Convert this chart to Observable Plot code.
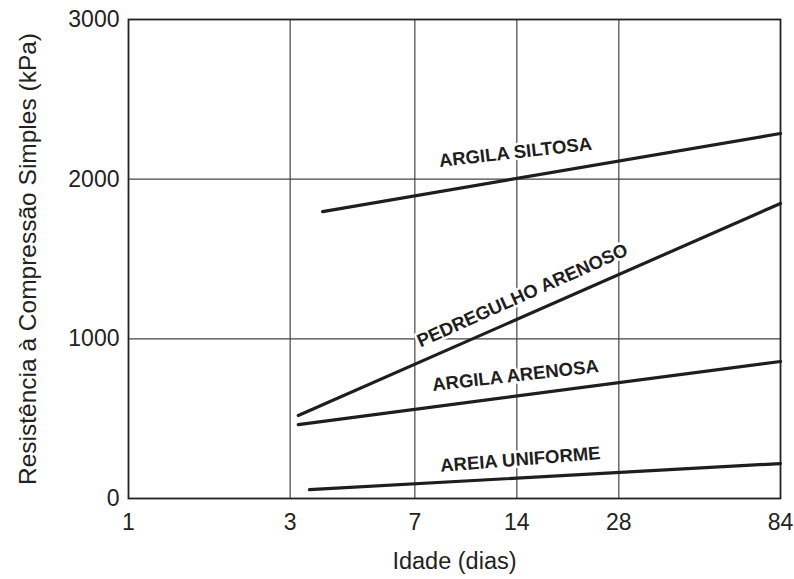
<!DOCTYPE html>
<html>
<head>
<meta charset="utf-8">
<script src="https://cdn.jsdelivr.net/npm/d3@7"></script>
<script src="https://cdn.jsdelivr.net/npm/@observablehq/plot@0.6"></script>
<style>
  html, body { margin: 0; padding: 0; background: #fff; }
  #chart { width: 794px; height: 579px; }
</style>
</head>
<body>
<div id="chart"></div>
<script>
// Soil types (curve labels)
const soils = ["ARGILA SILTOSA", "PEDREGULHO ARENOSO", "ARGILA ARENOSA", "AREIA UNIFORME"];
// Curve start / end (age in days, strength in kPa)
const startDay = [3.74, 3.17, 3.17, 3.42];
const startKPa = [1797, 520, 463, 56];
const endDay = [84, 84, 84, 84];
const endKPa = [2286, 1848, 858, 219];
// Label anchor positions (data units) and angles
const labelDay = [13.87, 14.54, 13.87, 14.34];
const labelKPa = [2167, 1271, 770, 244];
const labelAngle = [-6.5, -24, -6.5, -4.5];
// Axes
const xTicks = [1, 3, 7, 14, 28, 84];
const yTicks = [0, 1000, 2000, 3000];
const xGrid = [3, 7, 14, 28];
const yGrid = [1000, 2000];
const xTitle = "Idade (dias)";
const yTitle = "Resistência à Compressão Simples (kPa)";

const lineData = soils.flatMap((s, i) => [
  {soil: s, day: startDay[i], kpa: startKPa[i]},
  {soil: s, day: endDay[i], kpa: endKPa[i]}
]);
const labelData = soils.map((s, i) => ({soil: s, day: labelDay[i], kpa: labelKPa[i], angle: labelAngle[i]}));

const font = "'Liberation Sans', Arial, sans-serif";
const fmt = d => String(d);

const chart = Plot.plot({
  width: 794,
  height: 579,
  marginLeft: 128,
  marginRight: 14,
  marginTop: 19,
  marginBottom: 81,
  style: {fontFamily: font, background: "#fff", color: "#222"},
  x: {type: "log", domain: [1, 84], label: null, axis: null},
  y: {domain: [0, 3000], label: null, axis: null},
  marks: [
    Plot.ruleX(xGrid, {stroke: "#444", strokeWidth: 1.2}),
    Plot.ruleY(yGrid, {stroke: "#444", strokeWidth: 1.2}),
    Plot.frame({stroke: "#222", strokeWidth: 1.8}),
    Plot.line(lineData, {x: "day", y: "kpa", z: "soil", stroke: "#1e1e1e", strokeWidth: 3.2}),
    Plot.text(labelData, {
      x: "day", y: "kpa", text: "soil", rotate: "angle",
      fontSize: 18.5, fontWeight: "bold", fill: "#1e1e1e",
      stroke: "white", strokeWidth: 5, paintOrder: "stroke"
    }),
    // x tick labels
    Plot.text(xTicks, {x: d => d, frameAnchor: "bottom", dy: 24, text: fmt,
      lineAnchor: "middle", textAnchor: "middle", fontSize: 23, fill: "#222"}),
    // y tick labels
    Plot.text(yTicks, {y: d => d, frameAnchor: "left", dx: -9, text: fmt,
      lineAnchor: "middle", textAnchor: "end", fontSize: 23, fill: "#222"}),
    Plot.text([xTitle], {frameAnchor: "bottom", dy: 63, lineAnchor: "middle", textAnchor: "middle", fontSize: 23.5, fill: "#222"}),
    Plot.text([yTitle], {frameAnchor: "left", dx: -100, rotate: -90, lineAnchor: "middle", textAnchor: "middle", fontSize: 24.5, fill: "#222"})
  ]
});
document.getElementById("chart").appendChild(chart);
</script>
</body>
</html>
